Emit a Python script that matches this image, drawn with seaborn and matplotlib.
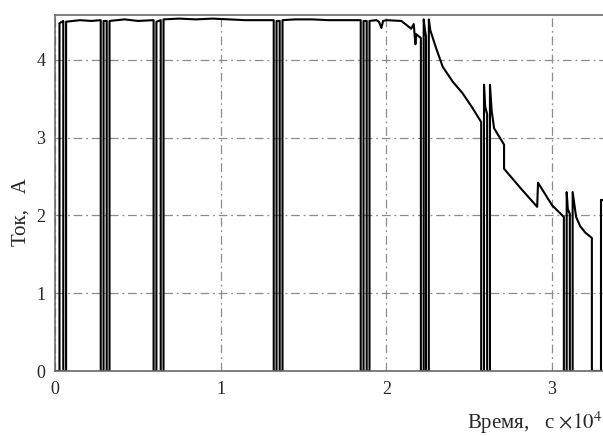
import numpy as np
import matplotlib
matplotlib.use("Agg")
import matplotlib.pyplot as plt
import seaborn as sns

# Current profile, breakpoints (time in s, current in A)
time_s = [
    0, 270, 270, 500, 500, 670, 670, 1500, 2200,
    2760, 2760, 2930, 2930, 3120, 3120, 3290, 3290, 4200, 5000,
    5950, 5950, 6120, 6120, 6380, 6380, 6550, 6550,
    7500, 8500, 9500, 10500, 11500, 12500,
    13200, 13200, 13370, 13370, 13560, 13560, 13730, 13730,
    14500, 15500, 16500, 17500,
    18450, 18450, 18620, 18620, 18810, 18810, 18980, 18980,
    19400, 19550, 19700, 19800, 20000, 20900,
    21500, 21650, 21750, 21800, 22080,
    22080, 22250, 22250, 22330, 22390, 22390, 22560, 22560,
    22650, 23000, 23400, 24000, 24600, 25200, 25720,
    25720, 25890, 25890, 25960, 26080, 26080, 26250, 26250,
    26350, 26500, 27100, 27100, 28100, 29100, 29150, 30000, 30710,
    30710, 30880, 30880, 30950, 31070, 31070, 31240, 31240,
    31450, 31700, 32000, 32400, 32400, 32950, 32950, 33600,
]
current_a = [
    0, 0, 4.47, 4.50, 0, 0, 4.49, 4.51, 4.50,
    4.51, 0, 0, 4.50, 4.50, 0, 0, 4.50, 4.52, 4.50,
    4.51, 0, 0, 4.49, 4.51, 0, 0, 4.52,
    4.53, 4.52, 4.53, 4.52, 4.51, 4.51,
    4.51, 0, 0, 4.50, 4.50, 0, 0, 4.51,
    4.52, 4.52, 4.51, 4.51,
    4.51, 0, 0, 4.50, 4.50, 0, 0, 4.50,
    4.51, 4.49, 4.41, 4.50, 4.51, 4.50,
    4.40, 4.46, 4.20, 4.33, 4.28,
    0, 0, 4.52, 4.38, 4.30, 0, 0, 4.52,
    4.38, 4.15, 3.91, 3.72, 3.57, 3.38, 3.20,
    0, 0, 3.68, 3.40, 3.30, 0, 0, 3.68,
    3.35, 3.12, 2.91, 2.60, 2.35, 2.11, 2.42, 2.13, 1.98,
    0, 0, 2.30, 2.08, 2.02, 0, 0, 2.30,
    1.98, 1.86, 1.78, 1.71, 0, 0, 2.20, 2.18,
]

x_ticks = [0, 10000, 20000, 30000]
x_ticklabels = ["0", "1", "2", "3"]
y_ticks = [0, 1, 2, 3, 4]

sns.set_style("white")
plt.rcParams['font.family'] = ['Liberation Serif', 'DejaVu Serif']
plt.rcParams['mathtext.fontset'] = 'stix'

fig = plt.figure(figsize=(6.03, 4.36), dpi=100)
ax = fig.add_axes([55 / 603, 65 / 436, (612 - 55) / 603, (371 - 15.5) / 436])

sns.lineplot(x=time_s, y=current_a, sort=False, estimator=None,
             color="black", linewidth=1.5, ax=ax)

ax.set_xlim(0, (612 - 55) / 165.7 * 1e4)
ax.set_ylim(0, 4.57)
ax.set_xticks(x_ticks)
ax.set_xticklabels(x_ticklabels)
ax.set_yticks(y_ticks)

ax.grid(True, color="#8c8c8c", linewidth=0.9, linestyle=(0, (7, 3, 1.5, 3)))
for s in ax.spines.values():
    s.set_color("#6a6a6a")
    s.set_linewidth(1.2)
ax.tick_params(direction="in", length=3, labelsize=13, pad=7, color="#6a6a6a")

# labels placed like the MATLAB export
fig.text(21 / 603, 1 - 212 / 436, "Ток,   А", rotation=90, ha="center", va="center", fontsize=15)
fig.text(0.998, 0.016, "Время,   c $\\times10^4$", ha="right", va="baseline", fontsize=15)

plt.savefig("out.png", dpi=100)
